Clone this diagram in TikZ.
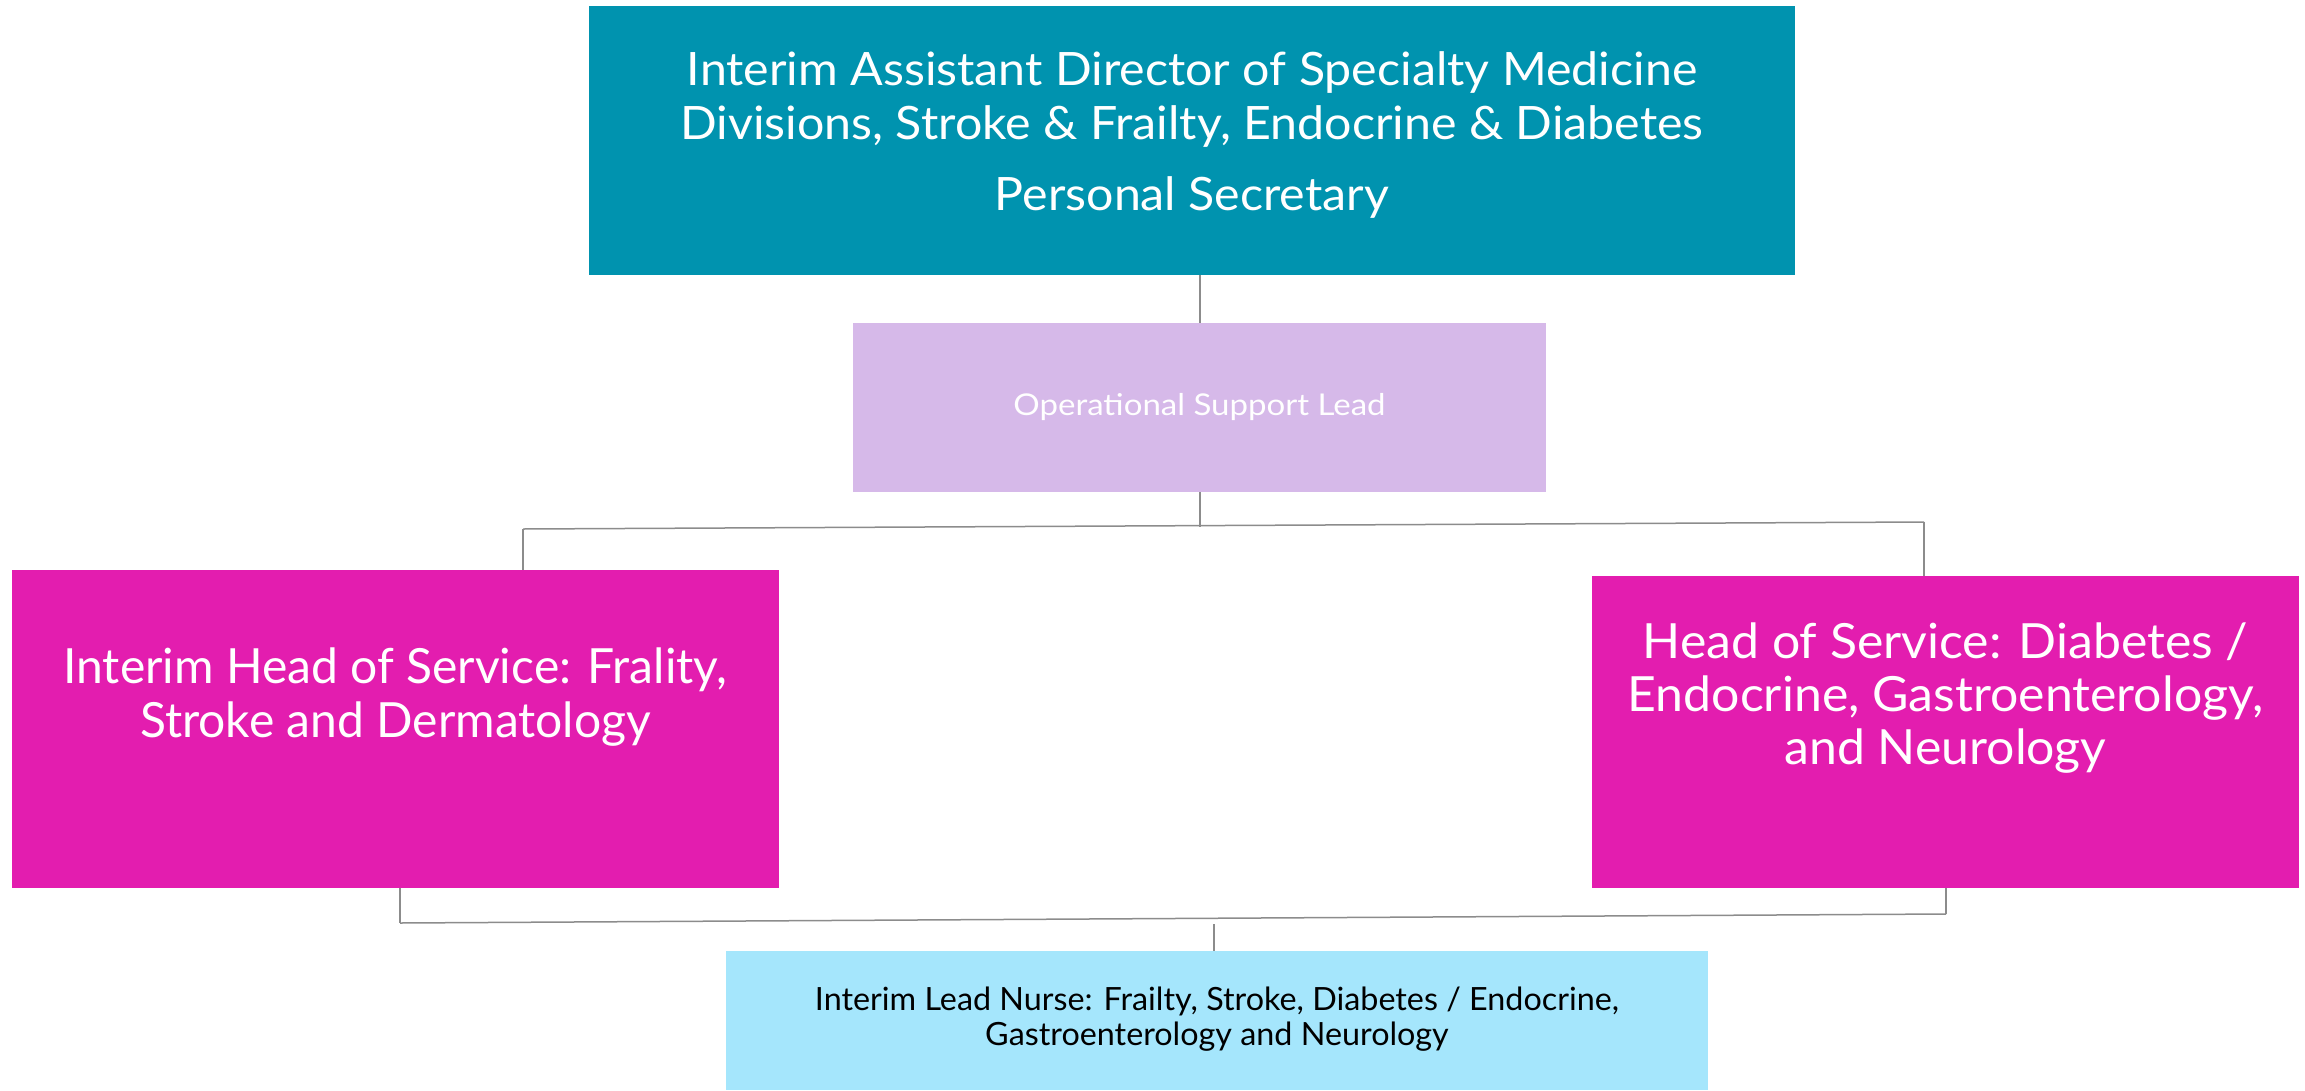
\documentclass[tikz,border=0pt]{standalone}
\usepackage{fontspec}
\setmainfont{Lato}
\newfontfamily\ftop[FakeStretch=1.05]{Lato}
\newfontfamily\fleft[FakeStretch=0.99]{Lato}
\newfontfamily\fright[FakeStretch=1.03]{Lato}
\newfontfamily\fop[FakeStretch=1.10]{Lato}
\newfontfamily\fcy[FakeStretch=1.01]{Lato}
\definecolor{teal1}{RGB}{0,147,175}
\definecolor{lav}{RGB}{214,185,233}
\definecolor{pinkbox}{RGB}{227,29,175}
\definecolor{cyanbox}{RGB}{165,230,252}
\definecolor{conn}{RGB}{140,140,140}
\begin{document}
\begin{tikzpicture}[x=1pt,y=-1pt,
  boxstyle/.style={draw=none,rectangle,inner sep=0pt},
  txt/.style={inner sep=0pt,align=center},
  link/.style={draw=conn,line width=1.5pt}]
\path[use as bounding box,fill=white] (0,0) rectangle (2305,1090);
% boxes
\node[boxstyle,fill=teal1,minimum width=1206pt,minimum height=269pt] (top) at (1192,140.5) {};
\node[boxstyle,fill=lav,minimum width=693pt,minimum height=169pt] (op) at (1199.5,407.5) {};
\node[boxstyle,fill=pinkbox,minimum width=767pt,minimum height=318pt] (lp) at (395.5,729) {};
\node[boxstyle,fill=pinkbox,minimum width=707pt,minimum height=312pt] (rp) at (1945.5,732) {};
\node[boxstyle,fill=cyanbox,minimum width=982pt,minimum height=139pt] (cy) at (1217,1020.5) {};
% texts
\node[txt,text=white,font=\ftop\fontsize{46}{54}\selectfont] (toptxt) at (1192,135)
  {Interim Assistant Director of Specialty Medicine\\Divisions, Stroke \& Frailty, Endocrine \& Diabetes\\[17pt]Personal Secretary};
\node[txt,text=white,font=\fop\fontsize{30}{36}\selectfont] (optxt) at (1199.5,407) {Operational Support Lead};
\node[txt,text=white,font=\fleft\fontsize{48.5}{54}\selectfont] (lptxt) at (395.5,697.5)
  {Interim Head of Service: Frality,\\Stroke and Dermatology};
\node[txt,text=white,font=\fright\fontsize{48.5}{53}\selectfont] (rptxt) at (1945.5,698.5)
  {Head of Service: Diabetes /\\Endocrine, Gastroenterology,\\and Neurology};
\node[txt,text=black,font=\fcy\fontsize{32}{35}\selectfont] (cytxt) at (1217,1019)
  {Interim Lead Nurse: Frailty, Stroke, Diabetes / Endocrine,\\Gastroenterology and Neurology};
% connector coordinates
\coordinate (j1) at (1200,527);
\coordinate (hL) at (523,529);
\coordinate (hR) at (1924,522);
\coordinate (bL) at (400,923);
\coordinate (bR) at (1946,914);
\coordinate (j2) at (1214,924);
% connectors
\draw[link] (op.north -| j1) -- (top.south -| j1);
\draw[link] (op.south -| j1) -- (j1);
\draw[link] (hL) -- (hR);
\draw[link] (hL) -- (lp.north -| hL);
\draw[link] (hR) -- (rp.north -| hR);
\draw[link] (lp.south -| bL) -- (bL);
\draw[link] (rp.south -| bR) -- (bR);
\draw[link] (bL) -- (bR);
\draw[link] (j2) -- (cy.north -| j2);
\end{tikzpicture}
\end{document}
